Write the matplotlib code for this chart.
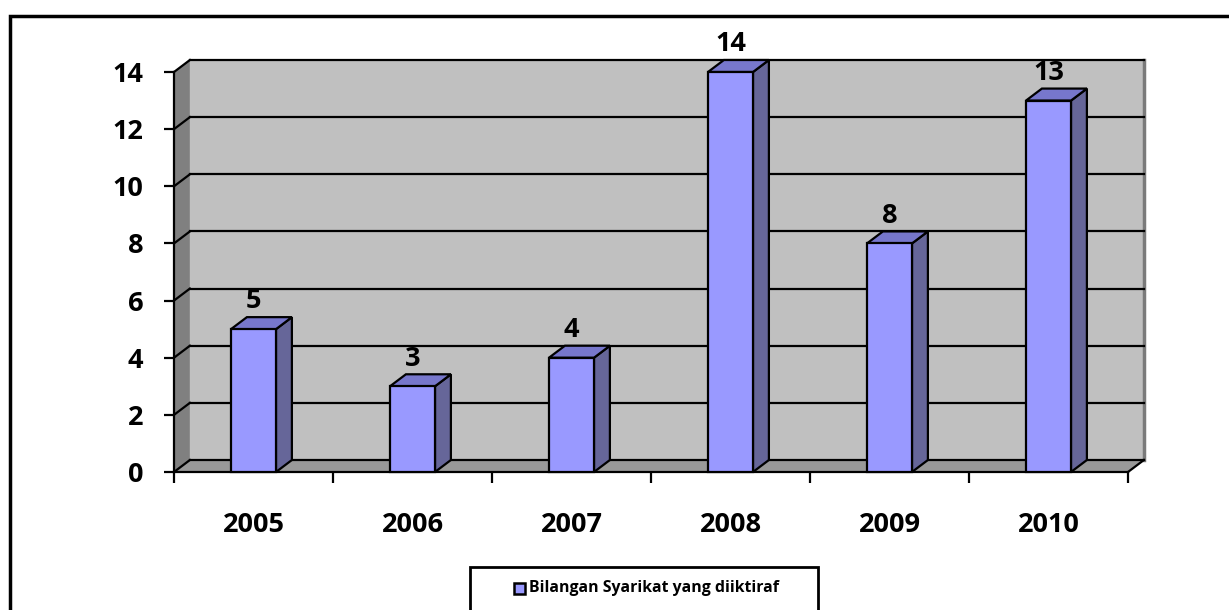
import matplotlib
matplotlib.use("Agg")
import matplotlib.pyplot as plt
from matplotlib.patches import Rectangle, Polygon
from matplotlib.lines import Line2D

# Data
years = ["2005", "2006", "2007", "2008", "2009", "2010"]
counts = [5, 3, 4, 14, 8, 13]
series_name = "Bilangan Syarikat yang diiktiraf"
y_ticks = [0, 2, 4, 6, 8, 10, 12, 14]

# Styling
W, H = 1229, 610
FONT = "Open Sans"
FRONT = "#9999FF"
SIDE = "#666699"
TOP = "#7777CC"
WALL = "#C0C0C0"
LEFT_WALL = "#808080"
FLOOR = "#999999"
BAR_W = 0.283
DX = 0.10     # depth offset in category units
DY = 0.42     # depth offset in value units
LW = 1.6
FS = 19.5

plt.rcParams["font.family"] = [FONT, "DejaVu Sans"]
plt.rcParams["font.weight"] = "bold"

fig = plt.figure(figsize=(W / 100, H / 100), dpi=100)
fig.patch.set_facecolor("white")

# Front plane of the plot area (pixel geometry of the frame)
left_px, right_px, top_px, bot_px = 174, 1128, 72, 472
ax = fig.add_axes([left_px / W, 1 - bot_px / H,
                   (right_px - left_px) / W, (bot_px - top_px) / H])
n = len(years)
x0, x1 = -0.5, n - 0.5
ymax = 14
ax.set_xlim(x0, x1)
ax.set_ylim(0, ymax)
ax.set_facecolor("none")
for s in ax.spines.values():
    s.set_visible(False)

# Back wall
ax.add_patch(Rectangle((x0 + DX, DY), x1 - x0, ymax, facecolor=WALL,
                       edgecolor="none", zorder=0, clip_on=False))
ax.add_line(Line2D([x1 + DX, x1 + DX], [DY, ymax + DY], color="#7a7a7a",
                   lw=2.5, zorder=0.5, clip_on=False))
# Left side wall
ax.add_patch(Polygon([(x0, 0), (x0, ymax), (x0 + DX, ymax + DY), (x0 + DX, DY)],
                     closed=True, facecolor=LEFT_WALL, edgecolor="none",
                     zorder=0.2, clip_on=False))
# Floor
ax.add_patch(Polygon([(x0, 0), (x1, 0), (x1 + DX, DY), (x0 + DX, DY)],
                     closed=True, facecolor=FLOOR, edgecolor="none",
                     zorder=0.2, clip_on=False))

# Gridlines on back wall and left wall
for yv in y_ticks:
    ax.add_line(Line2D([x0 + DX, x1 + DX], [yv + DY, yv + DY], color="black",
                       lw=LW, zorder=1, clip_on=False))
    ax.add_line(Line2D([x0, x0 + DX], [yv, yv + DY], color="black",
                       lw=LW, zorder=1, clip_on=False))
# Floor right edge
ax.add_line(Line2D([x1, x1 + DX], [0, DY], color="black", lw=LW, zorder=1,
                   clip_on=False))
# Front axes lines
ax.add_line(Line2D([x0, x0], [0, ymax], color="black", lw=LW, zorder=1.2,
                   clip_on=False))
ax.add_line(Line2D([x0, x1], [0, 0], color="black", lw=LW, zorder=1.2,
                   clip_on=False))

# 3D-looking bars
for i, v in enumerate(counts):
    l, r = i - BAR_W / 2, i + BAR_W / 2
    side = Polygon([(r, 0), (r, v), (r + DX, v + DY), (r + DX, DY)], closed=True,
                   facecolor=SIDE, edgecolor="black", lw=LW, zorder=3,
                   clip_on=False, joinstyle="miter")
    top = Polygon([(l, v), (r, v), (r + DX, v + DY), (l + DX, v + DY)], closed=True,
                  facecolor=TOP, edgecolor="black", lw=LW, zorder=3,
                  clip_on=False, joinstyle="miter")
    ax.add_patch(side)
    ax.add_patch(top)
    ax.bar(i, v, width=BAR_W, color=FRONT, edgecolor="black", linewidth=LW,
           zorder=4, clip_on=False)
    ax.annotate(str(v), (i, v + DY), xytext=(0, 2), textcoords="offset points",
                ha="center", va="bottom", fontsize=FS, fontweight="bold",
                zorder=5, annotation_clip=False)

# Ticks
ax.set_yticks(y_ticks)
ax.set_yticklabels([str(t) for t in y_ticks], fontsize=FS, fontweight="bold")
ax.tick_params(axis="y", length=7, width=LW, pad=15, direction="out")
ax.set_xticks([x0 + k for k in range(n + 1)])
ax.set_xticklabels([])
ax.set_xticks(range(n), minor=True)
ax.set_xticklabels(years, minor=True, fontsize=FS, fontweight="bold")
ax.tick_params(axis="x", which="major", length=8, width=LW, direction="out")
ax.tick_params(axis="x", which="minor", length=0, pad=28.5)

# Legend box
lg_l, lg_r, lg_t = 470, 818, 567
fig.add_artist(Rectangle((lg_l / W, -0.2), (lg_r - lg_l) / W, 1 - lg_t / H + 0.2,
                         transform=fig.transFigure, facecolor="white",
                         edgecolor="black", lw=2))
fig.add_artist(Rectangle((514 / W, 1 - 594 / H), 11 / W, 11 / H,
                         transform=fig.transFigure, facecolor=FRONT,
                         edgecolor="black", lw=1.8))
fig.text(529 / W, 1 - 588 / H, series_name, fontsize=11.4, fontweight="bold",
         va="center", ha="left")

# Outer chart frame
fig.add_artist(Rectangle((10 / W, -0.2), 1.5, 1 - 16 / H + 0.2,
                         transform=fig.transFigure, facecolor="none",
                         edgecolor="black", lw=2.5))

fig.savefig("out.png", dpi=100, facecolor="white")
